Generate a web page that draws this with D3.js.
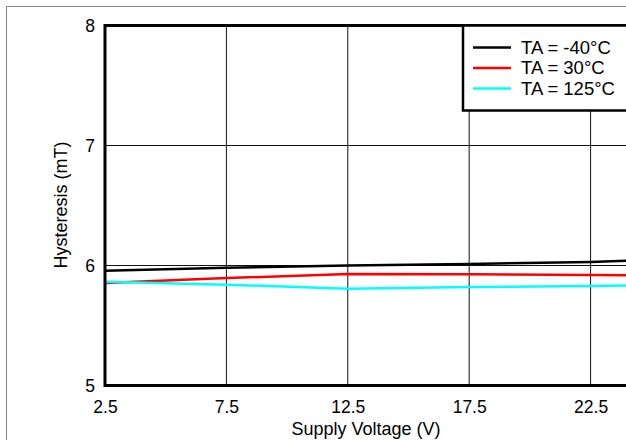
<!DOCTYPE html>
<html><head><meta charset="utf-8">
<script src="https://cdn.jsdelivr.net/npm/d3@7"></script>
<style>body{margin:0;background:#fff}svg{display:block}text{font-family:"Liberation Sans",Arial,sans-serif;fill:#000}</style>
</head><body>
<script>
const voltages = [2.5, 7.5, 12.5, 17.5, 22.5, 24];
const seriesNames = ["TA = -40°C", "TA = 30°C", "TA = 125°C"];
const seriesColors = ["#000000", "#ff0000", "#00ffff"];
const hystM40 = [5.957, 5.982, 6.000, 6.012, 6.030, 6.040];
const hyst30 = [5.855, 5.895, 5.930, 5.927, 5.920, 5.919];
const hyst125 = [5.865, 5.840, 5.807, 5.820, 5.830, 5.834];
const xTicks = [2.5, 7.5, 12.5, 17.5, 22.5];
const yTicks = [5, 6, 7, 8];
const seriesValues = [hystM40, hyst30, hyst125];

const W = 626, H = 440;
const FONT = '"Liberation Sans",Arial,sans-serif';
const svg = d3.select("body").append("svg").attr("width", W).attr("height", H);

// outer frame
svg.append("line").attr("x1",6.5).attr("x2",W).attr("y1",6.5).attr("y2",6.5).attr("stroke","#888").attr("stroke-width",1);
svg.append("line").attr("x1",6.5).attr("x2",6.5).attr("y1",6.5).attr("y2",H).attr("stroke","#888").attr("stroke-width",1);

const x = d3.scaleLinear().domain([2.5, 24]).range([105, 627]);
const y = d3.scaleLinear().domain([5, 8]).range([385.5, 25.5]);

// grid
svg.append("g").selectAll("line").data(xTicks.slice(1)).join("line")
  .attr("x1", d => x(d)).attr("x2", d => x(d))
  .attr("y1", y(8)).attr("y2", y(5)).attr("stroke", "#111").attr("stroke-width", 1);
svg.append("g").selectAll("line").data(yTicks.slice(1, -1)).join("line")
  .attr("x1", x(2.5)).attr("x2", W)
  .attr("y1", d => y(d)).attr("y2", d => y(d)).attr("stroke", "#111").attr("stroke-width", 1);

// lines
const line = d3.line().x((d, i) => x(voltages[i])).y(d => y(d));
seriesValues.forEach((vals, k) => {
  svg.append("path").datum(vals).attr("d", line).attr("fill", "none")
    .attr("stroke", seriesColors[k]).attr("stroke-width", 2.5);
});

// frame
svg.append("path").attr("d", `M${W+5},${y(8)}H${x(2.5)}V${y(5)}H${W+5}`)
  .attr("fill", "none").attr("stroke", "#000").attr("stroke-width", 3);

// axes labels
const xAxis = d3.axisBottom(x).tickValues(xTicks).tickSize(0).tickPadding(0).tickFormat(d3.format(".1f"));
const gx = svg.append("g").attr("transform", `translate(0,${y(5)})`).call(xAxis);
gx.select(".domain").remove();
gx.selectAll("text").attr("dy", null).attr("y", 413 - y(5)).attr("font-size", 17.5).attr("font-family", FONT);

const yAxis = d3.axisLeft(y).tickValues(yTicks).tickSize(0).tickPadding(0).tickFormat(d3.format("d"));
const gy = svg.append("g").attr("transform", `translate(${x(2.5)},0)`).call(yAxis);
gy.select(".domain").remove();
gy.selectAll("text").attr("x", -10).attr("dy", "0.35em").attr("font-size", 17.5).attr("font-family", FONT);

svg.append("text").attr("x", (x.range()[0] + x.range()[1]) / 2).attr("y", 434.5).attr("text-anchor", "middle")
  .attr("font-size", 18).text("Supply Voltage (V)");
svg.append("text").attr("transform", "translate(67,205) rotate(-90)").attr("text-anchor", "middle")
  .attr("font-size", 18).text("Hysteresis (mT)");

// legend
svg.append("rect").attr("x", 463).attr("y", y(8)).attr("width", 200).attr("height", 110.5 - y(8))
  .attr("fill", "#fff").attr("stroke", "#000").attr("stroke-width", 2.5);
const leg = svg.append("g").selectAll("g").data(seriesNames).join("g")
  .attr("transform", (d, i) => `translate(0,${47.5 + i * 20.5})`);
leg.append("line").attr("x1", 473).attr("x2", 511).attr("stroke", (d, i) => seriesColors[i]).attr("stroke-width", 2.5);
leg.append("text").attr("x", 521).attr("dy", "0.35em").attr("font-size", 18.5).text(d => d);
</script>
</body></html>
